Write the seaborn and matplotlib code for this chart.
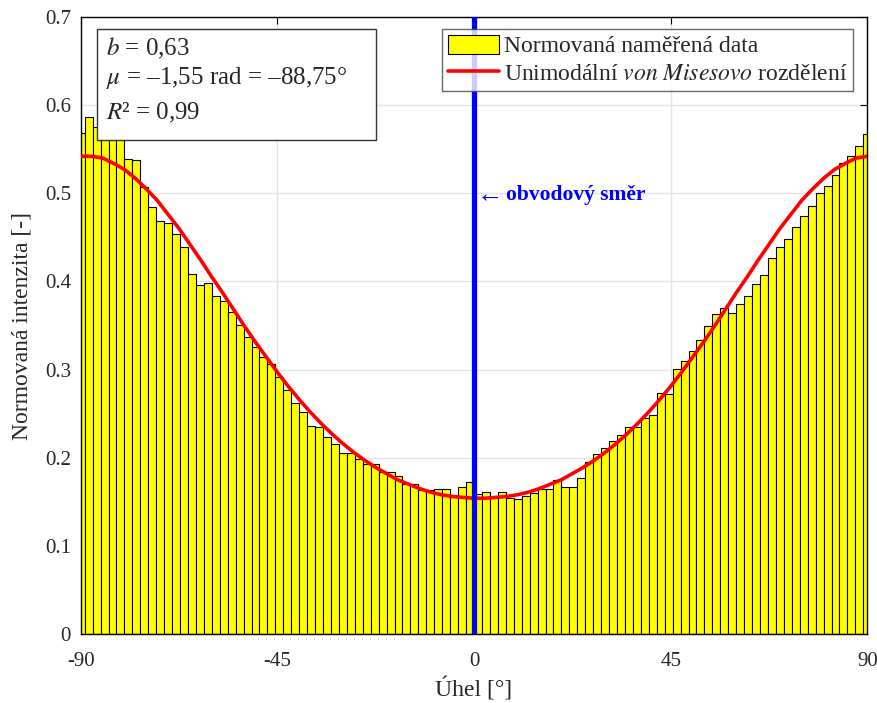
"""
Histogram of normalised measured intensity vs. angle with a von Mises fit.
"""
import numpy as np
import matplotlib
matplotlib.use('Agg')
import matplotlib.pyplot as plt
from matplotlib.patches import Patch, Rectangle
from matplotlib.lines import Line2D
import seaborn as sns

# Bin centres: 100 bins across -90..90 deg
ANGLE_MIN = -90.0
ANGLE_MAX = 90.0
N_BINS = 100
ANGLES = np.linspace(ANGLE_MIN, ANGLE_MAX, N_BINS)

INTENSITY = [
    0.568, 0.586, 0.575, 0.572, 0.566, 0.565, 0.539, 0.538, 0.507, 0.484,
    0.468, 0.466, 0.454, 0.439, 0.408, 0.396, 0.398, 0.383, 0.378, 0.365,
    0.351, 0.337, 0.326, 0.314, 0.306, 0.292, 0.277, 0.262, 0.252, 0.236,
    0.235, 0.224, 0.216, 0.205, 0.205, 0.199, 0.193, 0.193, 0.184, 0.184,
    0.179, 0.170, 0.170, 0.163, 0.163, 0.165, 0.165, 0.156, 0.1665, 0.172,
    0.159, 0.1615, 0.155, 0.1615, 0.154, 0.153, 0.157, 0.160, 0.164, 0.165,
    0.175, 0.167, 0.167, 0.177, 0.195, 0.204, 0.211, 0.219, 0.226, 0.235,
    0.235, 0.2455, 0.249, 0.273, 0.272, 0.301, 0.3095, 0.321, 0.334, 0.349,
    0.363, 0.370, 0.364, 0.374, 0.383, 0.397, 0.407, 0.427, 0.439, 0.448,
    0.462, 0.474, 0.486, 0.500, 0.508, 0.521, 0.534, 0.5425, 0.554, 0.567,
]

# Fitted unimodal von Mises curve, read every 2.5 deg
CURVE_ANGLES = [
    -90, -87.5, -85, -82.5, -80, -77.5, -75, -72.5, -70, -67.5, -65, -62.5,
    -60, -57.5, -55, -52.5, -50, -47.5, -45, -42.5, -40, -37.5, -35, -32.5,
    -30, -27.5, -25, -22.5, -20, -17.5, -15, -12.5, -10, -7.5, -5, -2.5,
    0, 2.5, 5, 7.5, 10, 12.5, 15, 17.5, 20, 22.5, 25, 27.5,
    30, 32.5, 35, 37.5, 40, 42.5, 45, 47.5, 50, 52.5, 55, 57.5,
    60, 62.5, 65, 67.5, 70, 72.5, 75, 77.5, 80, 82.5, 85, 87.5, 90,
]
CURVE_VALUES = [
    0.542, 0.542, 0.540, 0.534, 0.527, 0.517, 0.505, 0.492, 0.476, 0.460,
    0.442, 0.424, 0.405, 0.387, 0.368, 0.349, 0.331, 0.314, 0.297, 0.281,
    0.266, 0.252, 0.239, 0.227, 0.216, 0.206, 0.197, 0.189, 0.182, 0.175,
    0.170, 0.165, 0.161, 0.158, 0.156, 0.155, 0.154, 0.154, 0.155, 0.156,
    0.158, 0.161, 0.165, 0.170, 0.175, 0.182, 0.189, 0.197, 0.206, 0.216,
    0.227, 0.239, 0.252, 0.266, 0.281, 0.297, 0.314, 0.331, 0.349, 0.368,
    0.387, 0.405, 0.424, 0.442, 0.460, 0.476, 0.492, 0.505, 0.517, 0.527,
    0.534, 0.540, 0.542,
]

X_TICKS = [-90, -45, 0, 45, 90]
X_TICK_LABELS = ['-90', '-45', '0', '45', '90']
Y_TICKS = [0, 0.1, 0.2, 0.3, 0.4, 0.5, 0.6, 0.7]
Y_TICK_LABELS = ['0', '0.1', '0.2', '0.3', '0.4', '0.5', '0.6', '0.7']

FIT_TEXT = [r'$b$ = 0,63',
            r'$\mu$ = –1,55 rad = –88,75°',
            r'$R$² = 0,99']

sns.set_theme(style='white')
plt.rcParams['font.family'] = ['Liberation Serif', 'DejaVu Serif']
plt.rcParams['mathtext.fontset'] = 'stix'

FIG = plt.figure(figsize=(8.77, 7.03), dpi=100)
AX = FIG.add_axes([80.7 / 877, 1 - 634 / 703, 786.6 / 877, 617 / 703])

# Bars
sns.barplot(x=ANGLES, y=INTENSITY, native_scale=True, width=1.0,
            color='#FFFF00', saturation=1, edgecolor='black', linewidth=0.8,
            errorbar=None, ax=AX, zorder=2)

# Fitted curve
sns.lineplot(x=CURVE_ANGLES, y=CURVE_VALUES, color='red', linewidth=2.6,
             ax=AX, zorder=4)

# Circumferential direction marker
AX.axvline(0, color='#0000FF', linewidth=3.8, zorder=5)
AX.text(0.6, 0.497, '\u2190', color='#0000FF', fontsize=19, va='center',
        ha='left', zorder=6)
AX.text(7.3, 0.498, 'obvodový směr', color='#0000FF', fontsize=15.5,
        fontweight='bold', va='center', ha='left', zorder=6)

AX.set_xlim(ANGLE_MIN, ANGLE_MAX)
AX.set_ylim(0, 0.7)
AX.set_xticks(X_TICKS)
AX.set_xticklabels(X_TICK_LABELS)
AX.set_yticks(Y_TICKS)
AX.set_yticklabels(Y_TICK_LABELS)
AX.tick_params(direction='in', top=True, right=True, length=5, width=0.8,
               labelsize=15, color='black')
AX.tick_params(axis='x', pad=13)
AX.tick_params(axis='y', pad=7)
AX.grid(True, color='#E3E3E3', linewidth=1.0)
AX.set_axisbelow(True)
for side in AX.spines.values():
    side.set_color('black')
    side.set_linewidth(1.0)

AX.set_xlabel('Úhel [°]', fontsize=17, labelpad=5)
AX.set_ylabel('Normovaná intenzita [-]', fontsize=17, labelpad=9)

# Legend
HANDLES = [Patch(facecolor='#FFFF00', edgecolor='black', linewidth=0.8),
           Line2D([], [], color='red', linewidth=2.6)]
LABELS = ['Normovaná naměřená data',
          r'Unimodální $\mathit{von\ Misesovo}$ rozdělení']
LEG = AX.legend(HANDLES, LABELS, loc='upper right',
                bbox_to_anchor=(853 / 877, 1 - 29 / 703),
                bbox_transform=FIG.transFigure, fontsize=17, frameon=True,
                fancybox=False, borderaxespad=0, borderpad=0.25,
                handlelength=2.15, handleheight=0.85, handletextpad=0.2,
                labelspacing=0.2)
LEG.get_frame().set_edgecolor('#444444')
LEG.get_frame().set_linewidth(1.0)
LEG.set_zorder(10)

# Fit parameter box
AX.add_patch(Rectangle((0.0203, 0.8006), 0.3551, 0.1794,
                       transform=AX.transAxes, facecolor='white',
                       edgecolor='#333333', linewidth=1.0, zorder=9,
                       clip_on=False))
for line_y, line_text in zip([0.9497, 0.9011, 0.8444], FIT_TEXT):
    AX.text(0.0322, line_y, line_text, transform=AX.transAxes, fontsize=18,
            va='center', ha='left', zorder=11)

FIG.savefig('out.png', dpi=100)
